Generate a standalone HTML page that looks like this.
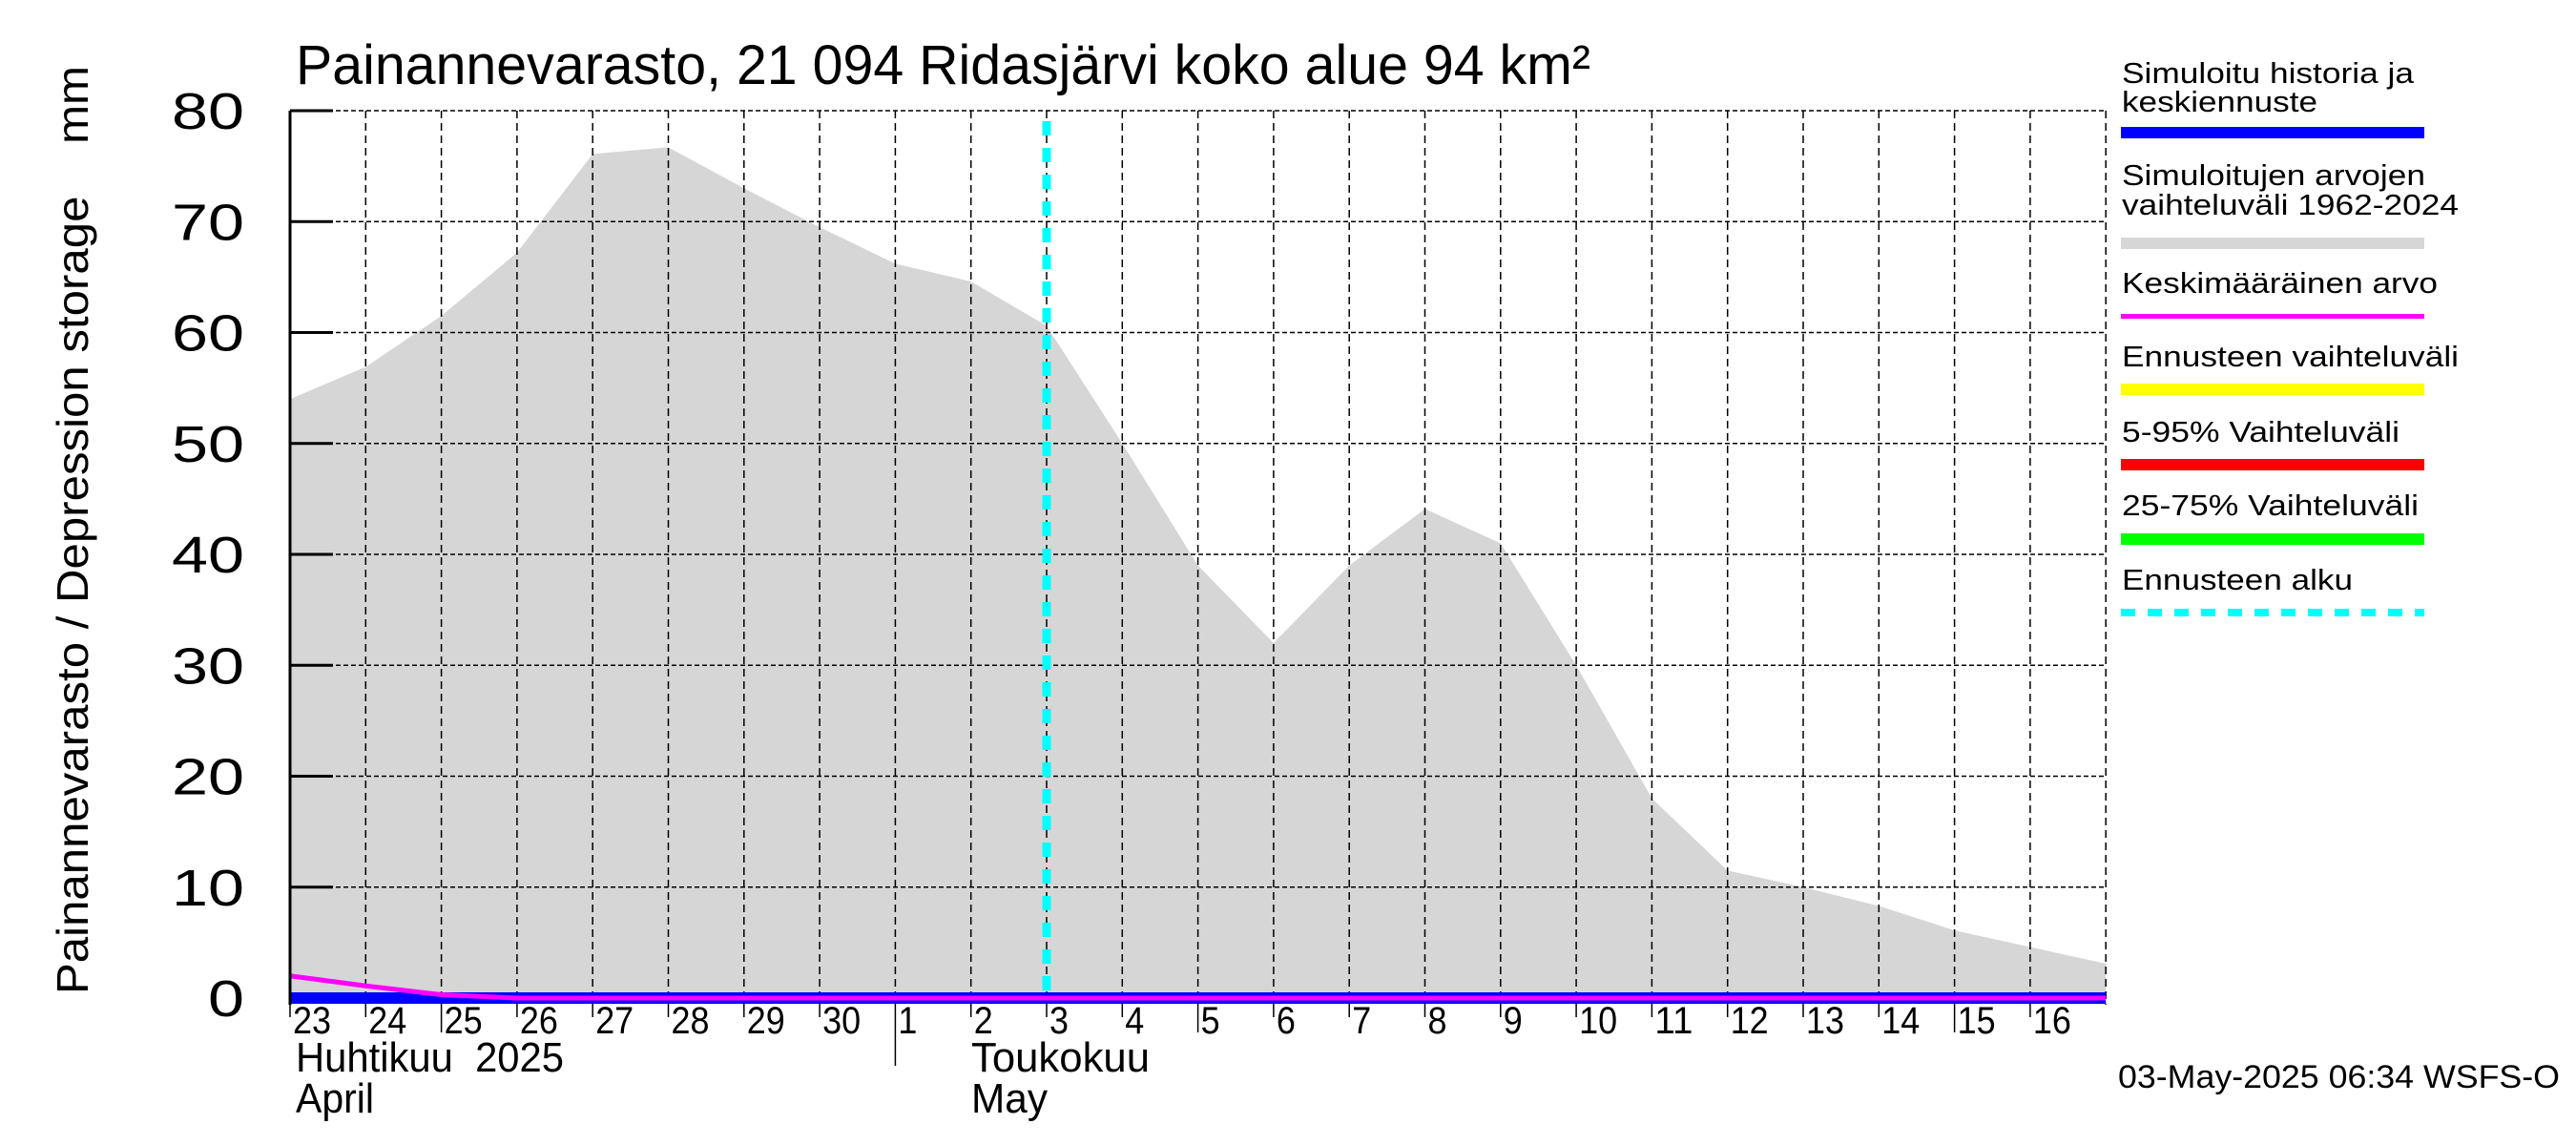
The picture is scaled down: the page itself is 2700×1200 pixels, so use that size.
<!DOCTYPE html>
<html><head><meta charset="utf-8"><style>
html,body{margin:0;padding:0;background:#fff;}
svg{display:block;font-family:"Liberation Sans",sans-serif;}
</style></head><body>
<svg id="chart" width="2700" height="1200" viewBox="0 0 2700 1200" xmlns="http://www.w3.org/2000/svg">
<g id="plot"></g>
<text x="310" y="88" font-size="58" textLength="1357" lengthAdjust="spacingAndGlyphs">Painannevarasto, 21 094 Ridasjärvi koko alue 94 km²</text>
<text transform="translate(92,1042) rotate(-90)" font-size="46" textLength="973" lengthAdjust="spacingAndGlyphs" xml:space="preserve">Painannevarasto / Depression storage    mm</text>
<text x="310" y="1123" font-size="44" textLength="281" lengthAdjust="spacingAndGlyphs" xml:space="preserve">Huhtikuu  2025</text>
<text x="310" y="1166" font-size="44" textLength="82" lengthAdjust="spacingAndGlyphs">April</text>
<text x="1018" y="1123" font-size="44" textLength="187" lengthAdjust="spacingAndGlyphs">Toukokuu</text>
<text x="1018" y="1166" font-size="44" textLength="80" lengthAdjust="spacingAndGlyphs">May</text>
<text x="2220" y="1140" font-size="34" textLength="463" lengthAdjust="spacingAndGlyphs">03-May-2025 06:34 WSFS-O</text>
<g font-size="31">
<text x="2224" y="87" textLength="306" lengthAdjust="spacingAndGlyphs">Simuloitu historia ja</text>
<text x="2224" y="117" textLength="205" lengthAdjust="spacingAndGlyphs">keskiennuste</text>
<rect x="2223" y="133" width="318" height="12" fill="#0000ff"/>
<text x="2224" y="194" textLength="318" lengthAdjust="spacingAndGlyphs">Simuloitujen arvojen</text>
<text x="2224" y="225" textLength="353" lengthAdjust="spacingAndGlyphs">vaihteluväli 1962-2024</text>
<rect x="2223" y="249" width="318" height="12" fill="#d6d6d6"/>
<text x="2224" y="307" textLength="331" lengthAdjust="spacingAndGlyphs">Keskimääräinen arvo</text>
<rect x="2223" y="329" width="318" height="5" fill="#ff00ff"/>
<text x="2224" y="384" textLength="353" lengthAdjust="spacingAndGlyphs">Ennusteen vaihteluväli</text>
<rect x="2223" y="402" width="318" height="12" fill="#ffff00"/>
<text x="2224" y="463" textLength="291" lengthAdjust="spacingAndGlyphs">5-95% Vaihteluväli</text>
<rect x="2223" y="481" width="318" height="12" fill="#ff0000"/>
<text x="2224" y="540" textLength="311" lengthAdjust="spacingAndGlyphs">25-75% Vaihteluväli</text>
<rect x="2223" y="559" width="318" height="12" fill="#00ff00"/>
<text x="2224" y="618" textLength="242" lengthAdjust="spacingAndGlyphs">Ennusteen alku</text>
<line x1="2223" y1="642" x2="2541" y2="642" stroke="#00ffff" stroke-width="8" stroke-dasharray="15,13"/>
</g>
</svg>
<script>
const dayLabels = ["23","24","25","26","27","28","29","30","1","2","3","4","5","6","7","8","9","10","11","12","13","14","15","16"];
const rangeMax = [54,56.9,61.5,67.2,76.1,76.7,73,69.5,66.2,64.6,60.6,50,39,32,39,44.1,41,30,18,11.5,10,8.3,6.1,4.6,3.1];
const meanValues = [2.0,1.1,0.3,0,0,0,0,0,0,0,0,0,0,0,0,0,0,0,0,0,0,0,0,0,0];
const historyValues = [0,0,0,0,0,0,0,0,0,0,0,0,0,0,0,0,0,0,0,0,0,0,0,0,0];
const yTicks = [0,10,20,30,40,50,60,70,80];
const forecastStartDay = 10;

const NS = "http://www.w3.org/2000/svg";
const X0 = 304, DX = 79.3, Y0 = 1046, DY = 11.625, XEND = X0 + 24 * DX;
const xs = d => X0 + d * DX;
const ys = v => Y0 - v * DY;
const plot = document.getElementById('plot');
function mk(tag, attrs) {
  const e = document.createElementNS(NS, tag);
  for (const k in attrs) e.setAttribute(k, attrs[k]);
  plot.appendChild(e);
  return e;
}
let d = "M" + xs(0) + "," + ys(0);
rangeMax.forEach((v, i) => { d += " L" + xs(i) + "," + ys(v); });
d += " L" + xs(rangeMax.length - 1) + "," + ys(0) + " Z";
const area = mk('path', {d: d, fill: '#d6d6d6'});


yTicks.forEach(t => {
  const g = mk('line', {x1: X0, x2: XEND, y1: ys(t), y2: ys(t), stroke: '#000', 'stroke-width': 1.5, 'stroke-dasharray': '5,3'});
  
  
  const tk = mk('line', {x1: X0, x2: X0 + 45, y1: ys(t), y2: ys(t), stroke: '#000', 'stroke-width': 3});
  
  
  const s = String(t);
  const lb = mk('text', {x: 256, y: ys(t) + 19, 'font-size': 54, 'text-anchor': 'end', textLength: 38 * s.length, lengthAdjust: 'spacingAndGlyphs'});
  lb.textContent = s;
  
  
});
for (let i = 1; i <= dayLabels.length; i++) {
  const g = mk('line', {x1: xs(i), x2: xs(i), y1: ys(80), y2: 1053, stroke: '#000', 'stroke-width': 1.5, 'stroke-dasharray': '8,5'});
  
  
}
for (let i = 0; i < dayLabels.length; i++) {
  const lbl = dayLabels[i];
  let y2 = 1066;
  if (lbl === "25" || lbl === "5" || lbl === "15") y2 = 1082;
  if (lbl === "1") y2 = 1117;
  const tk = mk('line', {x1: xs(i), x2: xs(i), y1: 1053, y2: y2, stroke: '#000', 'stroke-width': 1.5});
  
  
  const t = mk('text', {x: xs(i) + 3, y: 1083, 'font-size': 40, textLength: 20 * lbl.length, lengthAdjust: 'spacingAndGlyphs'});
  t.textContent = lbl;
  
  
}
let hp = historyValues.map((v, i) => xs(i) + "," + ys(v)).join(" ");
const hist = mk('polyline', {points: hp, fill: 'none', stroke: '#0000ff', 'stroke-width': 12});


let mp = meanValues.map((v, i) => xs(i) + "," + ys(v)).join(" ");
const mean = mk('polyline', {points: mp, fill: 'none', stroke: '#ff00ff', 'stroke-width': 5});


const ax = mk('line', {x1: X0, x2: X0, y1: ys(80), y2: 1053, stroke: '#000', 'stroke-width': 3});


const fc = mk('line', {x1: xs(forecastStartDay), x2: xs(forecastStartDay), y1: 127, y2: 1046, stroke: '#00ffff', 'stroke-width': 9, 'stroke-dasharray': '15,13'});


</script>
</body></html>
